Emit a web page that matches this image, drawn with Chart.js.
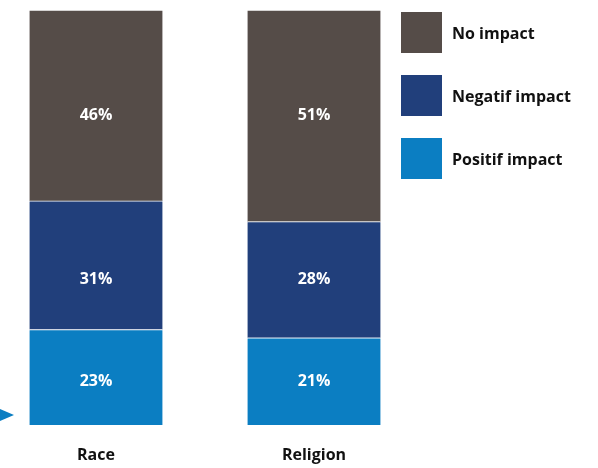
<!DOCTYPE html>
<html>
<head>
<meta charset="utf-8">
<script src="https://cdn.jsdelivr.net/npm/chart.js@4"></script>
<style>
    body { margin: 0; background: #ffffff; }
    #wrap { position: relative; width: 598px; height: 468px; }
    #legend { position: absolute; left: 401px; top: 12px; font-family: "Open Sans", "Noto Sans", sans-serif; font-weight: bold; font-size: 16px; color: #111111; }
    .item { display: flex; align-items: center; height: 41px; margin-bottom: 22px; }
    .box { width: 41px; height: 41px; margin-right: 10px; }
</style>
</head>
<body>
<div id="wrap">
    <canvas id="impactChart" width="598" height="468"></canvas>
    <div id="legend"></div>
</div>
<script>
//Chart data
const categories = ["Race", "Religion"];
const seriesNames = ["Positif impact", "Negatif impact", "No impact"];
const positifValues = [23, 21];
const negatifValues = [31, 28];
const noImpactValues = [46, 51];
const seriesColors = ["#0b7ec2", "#213f7b", "#554c48"];

const fontFamily = '"Open Sans", "Noto Sans", sans-serif';

//Writes the percentages in the middle of each segment (rows aligned on the last bar)
const valueLabels = {
    id: 'valueLabels',
    afterDatasetsDraw(chart) {
        const ctx = chart.ctx;
        ctx.save();
        ctx.fillStyle = "#ffffff";
        ctx.font = "bold 16px " + fontFamily;
        ctx.textAlign = "center";
        ctx.textBaseline = "middle";
        chart.data.datasets.forEach((ds, i) => {
            const bars = chart.getDatasetMeta(i).data;
            const last = bars[bars.length - 1];
            const rowY = (last.y + last.base) / 2;
            bars.forEach((bar, j) => {
                ctx.fillText(ds.data[j] + "%", bar.x, rowY);
            });
        });
        ctx.restore();
    }
};

//Small blue marker at the left of the baseline
const baseMarker = {
    id: 'baseMarker',
    afterDraw(chart) {
        const ctx = chart.ctx;
        const y = chart.scales.y.getPixelForValue(0) - 10;
        ctx.save();
        ctx.fillStyle = "#0b7ec2";
        ctx.beginPath();
        ctx.moveTo(0, y - 6);
        ctx.lineTo(14, y);
        ctx.lineTo(0, y + 6);
        ctx.closePath();
        ctx.fill();
        ctx.restore();
    }
};

const chartData = {
    labels: categories,
    datasets: [positifValues, negatifValues, noImpactValues].map((vals, i) => ({
        label: seriesNames[i],
        data: vals,
        backgroundColor: seriesColors[i],
        borderColor: "#ffffff",
        borderWidth: { top: 1, bottom: 0, left: 0, right: 0 },
        borderSkipped: false,
        barThickness: 133,
        clip: false
    }))
};

const chartOptions = {
    responsive: false,
    animation: false,
    layout: { padding: { top: 10, left: 96, right: 284, bottom: 0 } },
    plugins: {
        legend: { display: false },
        tooltip: { enabled: false }
    },
    scales: {
        x: {
            stacked: true,
            offset: false,
            grid: { display: false, drawTicks: false },
            border: { display: false },
            ticks: { padding: 21, maxRotation: 0, color: "#111111", font: { family: fontFamily, size: 16, weight: "bold" } },
            afterFit(scale) { scale.height = 43; }
        },
        y: {
            stacked: true,
            display: false,
            min: 0,
            max: 100
        }
    }
};

const ctx = document.getElementById('impactChart').getContext('2d');
new Chart(ctx, {
    type: 'bar',
    data: chartData,
    options: chartOptions,
    plugins: [valueLabels, baseMarker]
});

//Legend, top item is the top of the stack
const legend = document.getElementById('legend');
for (let i = seriesNames.length - 1; i >= 0; i--) {
    const item = document.createElement('div');
    item.className = 'item';
    item.innerHTML = '<div class="box" style="background:' + seriesColors[i] + '"></div><span>' + seriesNames[i] + '</span>';
    legend.appendChild(item);
}
</script>
</body>
</html>
